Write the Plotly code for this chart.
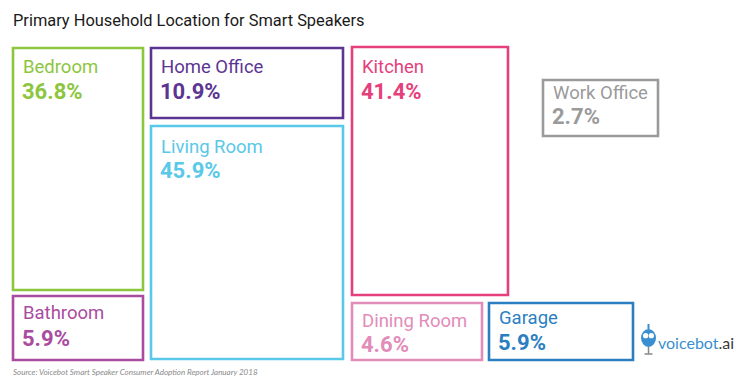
import plotly.graph_objects as go

# ---- data ----
categories = ["Bedroom", "Home Office", "Kitchen", "Work Office",
              "Living Room", "Bathroom", "Dining Room", "Garage"]
values = [36.8, 10.9, 41.4, 2.7, 45.9, 5.9, 4.6, 5.9]

title_text = "Primary Household Location for Smart Speakers"
source_text = "Source: Voicebot Smart Speaker Consumer Adoption Report January 2018"

# ---- style / layout (pixel space of a 750x380 canvas) ----
colors = ["#8cc63e", "#5c3593", "#e5407b", "#9a9a9a",
          "#5ac8e8", "#a94ca0", "#e28cb9", "#2b7fc1"]
# x0, y0, x1, y1, label baseline, value baseline
boxes = [
    (13, 48, 143, 290, 74, 100),
    (151, 48, 343, 118, 74, 100),
    (352, 47, 508, 295, 74, 100),
    (543, 80, 658, 136, 100, 125),
    (151, 126, 343, 359, 154, 179),
    (13, 296, 143, 360, 320, 347),
    (352, 303, 482, 360, 328, 353),
    (489, 303, 633, 360, 325, 351),
]
LABEL_SIZE = 18.5
VALUE_SIZE = 22
FONT = "Roboto"

fig = go.Figure()
shapes = []
annotations = []
for cat, val, col, (x0, y0, x1, y1, lb, vb) in zip(categories, values, colors, boxes):
    shapes.append(dict(type="rect", xref="x", yref="y", x0=x0, y0=y0, x1=x1, y1=y1,
                       line=dict(color=col, width=2.6), fillcolor="rgba(0,0,0,0)"))
    annotations.append(dict(x=x0 + 8, y=lb - 0.3 * LABEL_SIZE - 1.5, xref="x", yref="y",
                            text=cat, showarrow=False, xanchor="left", yanchor="middle",
                            font=dict(family=FONT, size=LABEL_SIZE, color=col)))
    annotations.append(dict(x=x0 + 7, y=vb - 0.3 * VALUE_SIZE - 2, xref="x", yref="y",
                            text=f"<b>{val}%</b>", showarrow=False, xanchor="left",
                            yanchor="middle",
                            font=dict(family=FONT, size=VALUE_SIZE, color=col)))

# title
annotations.append(dict(x=11, y=20, xref="x", yref="y", text=title_text, showarrow=False,
                        xanchor="left", yanchor="middle",
                        font=dict(family=FONT, size=16.4, color="#1a1a1a")))
# source
annotations.append(dict(x=11, y=372, xref="x", yref="y", text=f"<i>{source_text}</i>",
                        showarrow=False, xanchor="left", yanchor="middle",
                        font=dict(family="Lato", size=8, color="#8a8a8a")))
# logo text
annotations.append(dict(x=656, y=342, xref="x", yref="y",
                        text="<span style='color:#3a8fd0'>voicebot</span>"
                             "<span style='color:#3a3a3a'>.ai</span>",
                        showarrow=False, xanchor="left", yanchor="middle",
                        font=dict(family="Lato", size=16, color="#3a8fd0")))
# logo robot icon
shapes += [
    dict(type="circle", xref="x", yref="y", x0=641, y0=329, x1=656, y1=347,
         fillcolor="#3a8fd0", line=dict(width=0)),
    dict(type="circle", xref="x", yref="y", x0=643, y0=333, x1=648.3, y1=338.3,
         fillcolor="white", line=dict(width=0)),
    dict(type="circle", xref="x", yref="y", x0=648.7, y0=333, x1=654, y1=338.3,
         fillcolor="white", line=dict(width=0)),
    dict(type="line", xref="x", yref="y", x0=648.5, y0=324, x1=648.5, y1=329,
         line=dict(color="#3a8fd0", width=2)),
    dict(type="line", xref="x", yref="y", x0=648.5, y0=347, x1=648.5, y1=354,
         line=dict(color="#888888", width=1.5)),
    dict(type="line", xref="x", yref="y", x0=644.5, y0=354, x1=652.5, y1=354,
         line=dict(color="#888888", width=1.5)),
]

fig.update_layout(
    width=750, height=380,
    margin=dict(l=0, r=0, t=0, b=0),
    paper_bgcolor="white", plot_bgcolor="white",
    xaxis=dict(range=[0, 750], visible=False, fixedrange=True),
    yaxis=dict(range=[380, 0], visible=False, fixedrange=True),
    shapes=shapes, annotations=annotations, showlegend=False,
)
fig.write_html("out.html", config={"displayModeBar": False},
               post_script="document.body.style.margin='0';document.body.style.overflow='hidden';")
